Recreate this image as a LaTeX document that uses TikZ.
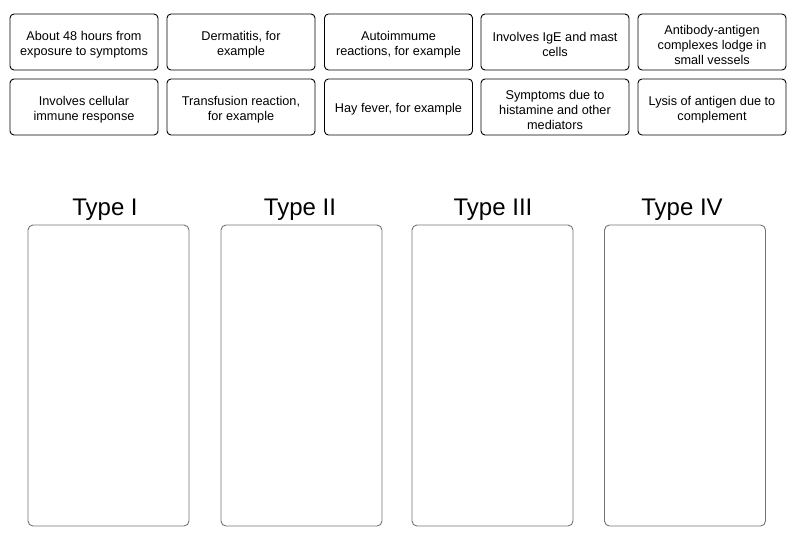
\documentclass[tikz,border=0pt]{standalone}
\usepackage{fontspec}
\setmainfont{Liberation Sans}
\newcommand\cardtxt[1]{\raisebox{-2.5pt}[\height][\depth]{\parbox{144pt}{\centering #1}}}
\begin{document}
\begin{tikzpicture}[x=1pt,y=-1pt,
  card/.style={draw=black,line width=0.9pt,rounded corners=4pt,minimum width=148pt,minimum height=56pt,inner sep=0pt,align=center,font=\fontsize{12.7}{15}\selectfont},
  col/.style={draw=black!55,line width=0.9pt,rounded corners=5pt,minimum width=161pt,minimum height=301pt,inner sep=0pt},
  title/.style={font=\fontsize{24}{28}\selectfont,anchor=base}]
\path[use as bounding box] (0,0) rectangle (805,538);
% row 1
\node[card] (c1) at (84,42) {\cardtxt{About 48 hours from\\exposure to symptoms}};
\node[card] (c2) at (241,42) {\cardtxt{Dermatitis, for\\example}};
\node[card] (c3) at (398.5,42) {\cardtxt{Autoimmume\\reactions, for example}};
\node[card] (c4) at (555,42) {\cardtxt{Involves IgE and mast\\cells}};
\node[card] (c5) at (712,42) {\cardtxt{Antibody-antigen\\complexes lodge in\\small vessels}};
% row 2
\node[card] (c6) at (84,107) {\cardtxt{Involves cellular\\immune response}};
\node[card] (c7) at (241,107) {\cardtxt{Transfusion reaction,\\for example}};
\node[card] (c8) at (398.5,107) {\cardtxt{Hay fever, for example}};
\node[card] (c9) at (555,107) {\cardtxt{Symptoms due to\\histamine and other\\mediators}};
\node[card] (c10) at (712,107) {\cardtxt{Lysis of antigen due to\\complement}};
% columns
\node[col] (k1) at (108.5,375.5) {};
\node[col] (k2) at (301.5,375.5) {};
\node[col] (k3) at (492.5,375.5) {};
\node[col] (k4) at (685,375.5) {};
\node[title] (t1) at (105,215) {Type I};
\node[title] (t2) at (300,215) {Type II};
\node[title] (t3) at (493,215) {Type III};
\node[title] (t4) at (682,215) {Type IV};
\end{tikzpicture}
\end{document}
